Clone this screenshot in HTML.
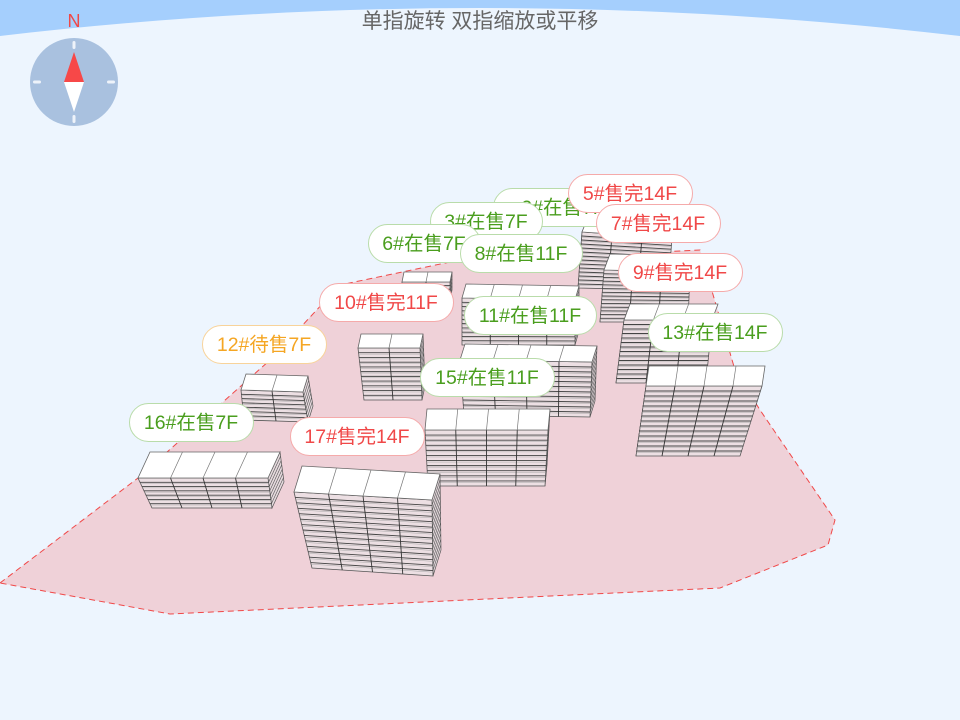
<!DOCTYPE html>
<html><head><meta charset="utf-8">
<style>
html,body{margin:0;padding:0;background:#edf5fe;}
svg{display:block}
text{font-family:"Liberation Sans","Noto Sans CJK SC",sans-serif}
</style></head>
<body>
<svg id="s" width="960" height="720" viewBox="0 0 960 720" xmlns="http://www.w3.org/2000/svg">
<rect width="960" height="720" fill="#edf5fe"/>
<path d="M0,0 H960 V36 Q480,-20 0,36 Z" fill="#a5cffd"/>
<text x="480" y="28" text-anchor="middle" font-size="21" fill="#666">单指旋转 双指缩放或平移</text>
<text x="74" y="27" text-anchor="middle" font-size="18" fill="#f04848">N</text>
<circle cx="74" cy="82" r="44" fill="#a9c1df"/>
<rect x="72.5" y="41" width="3" height="8" rx="1.5" fill="#eef3fa"/>
<rect x="72.5" y="115" width="3" height="8" rx="1.5" fill="#eef3fa"/>
<rect x="33" y="80.5" width="8" height="3" rx="1.5" fill="#eef3fa"/>
<rect x="107" y="80.5" width="8" height="3" rx="1.5" fill="#eef3fa"/>
<polygon points="74,52 64,82 84,82" fill="#f74848"/>
<polygon points="74,112 64,82 84,82" fill="#fff"/>
<polygon points="0,583 138,478 270,360 340,285 450,262 700,250 735,370 760,410 835,520 828,545 720,588 170,614" fill="#efd1d8" stroke="#f04848" stroke-width="1" stroke-dasharray="6,4"/>
<g id="b"></g>
<g id="l"></g>
</svg>
<script>
var NS="http://www.w3.org/2000/svg";
function el(p,t,a){var e=document.createElementNS(NS,t);for(var k in a)e.setAttribute(k,a[k]);p.appendChild(e);return e;}
var B=document.getElementById('b');
function lerp(a,b,t){return [a[0]+(b[0]-a[0])*t,a[1]+(b[1]-a[1])*t];}
function pts(a){return a.map(function(p){return p[0].toFixed(1)+','+p[1].toFixed(1)}).join(' ');}
function bld(tl,tr,br,bl,off,n,c,side){
  var g=el(B,'g',{});
  var s;
  if(side=='r'){s=[tr,[tr[0]+off[0],tr[1]+off[1]],[br[0]+off[0],br[1]+off[1]],br];}
  else{s=[tl,[tl[0]+off[0],tl[1]+off[1]],[bl[0]+off[0],bl[1]+off[1]],bl];}
  el(g,'polygon',{points:pts(s),fill:'#e6dade',stroke:'#555','stroke-width':0.7});
  for(var i=1;i<n;i++){var t=i/n;el(g,'line',{x1:lerp(s[0],s[3],t)[0],y1:lerp(s[0],s[3],t)[1],x2:lerp(s[1],s[2],t)[0],y2:lerp(s[1],s[2],t)[1],stroke:'#555','stroke-width':0.6});}
  el(g,'polygon',{points:pts([tl,tr,br,bl]),fill:'#ecdfe3',stroke:'#555','stroke-width':0.8});
  for(var i=1;i<n;i++){var t=i/n;var a=lerp(tl,bl,t),b=lerp(tr,br,t);
    el(g,'line',{x1:a[0],y1:a[1],x2:b[0],y2:b[1],stroke:'#444','stroke-width':0.9});
    var a2=lerp(tl,bl,t+0.3/n),b2=lerp(tr,br,t+0.3/n);
    el(g,'line',{x1:a2[0],y1:a2[1],x2:b2[0],y2:b2[1],stroke:'#aaa','stroke-width':0.5});}
  for(var j=1;j<c;j++){var t=j/c;var a=lerp(tl,tr,t),b=lerp(bl,br,t);
    el(g,'line',{x1:a[0],y1:a[1],x2:b[0],y2:b[1],stroke:'#333','stroke-width':0.9});}
  var tp=[tl,tr,[tr[0]+off[0],tr[1]+off[1]],[tl[0]+off[0],tl[1]+off[1]]];
  el(g,'polygon',{points:pts(tp),fill:'#fff',stroke:'#666','stroke-width':0.8});
  for(var j=1;j<c;j++){var t=j/c;var a=lerp(tp[0],tp[1],t),b=lerp(tp[3],tp[2],t);
    el(g,'line',{x1:a[0],y1:a[1],x2:b[0],y2:b[1],stroke:'#777','stroke-width':0.7});}
}
bld([582,232],[672,238],[668,290],[578,288],[4,-10],14,3,'l');
bld([604,270],[690,272],[688,322],[600,322],[6,-16],14,3,'l');
bld([402,282],[450,282],[450,300],[402,300],[2,-10],5,2,'r');
bld([462,298],[575,300],[575,345],[462,345],[4,-14],11,4,'r');
bld([624,320],[712,320],[706,383],[616,383],[6,-16],14,3,'l');
bld([358,348],[420,348],[422,400],[364,400],[3,-14],11,2,'r');
bld([460,360],[592,362],[590,417],[464,415],[5,-16],11,4,'r');
bld([241,390],[303,392],[308,422],[244,420],[5,-16],7,2,'r');
bld([646,386],[762,386],[740,456],[636,456],[3,-20],14,4,'l');
bld([425,430],[548,430],[545,486],[428,486],[2,-21],11,4,'r');
bld([138,478],[268,478],[272,508],[152,508],[12,-26],7,4,'r');
bld([294,492],[432,500],[433,576],[312,568],[8,-26],14,4,'r');
var L=document.getElementById('l');
var G=['#4a9e1e','#b9dcaa'],R=['#f04848','#f5aaaa'],O=['#f5a623','#f8d39a'];
[['2#在售7F',493,188,150,G],['5#售完14F',568,174,124,R],['3#在售7F',430,202,112,G],['7#售完14F',596,204,124,R],
['6#在售7F',368,224,112,G],['8#在售11F',460,234,122,G],['9#售完14F',618,253,124,R],['10#售完11F',319,283,134,R],
['11#在售11F',464,296,132,G],['13#在售14F',648,313,134,G],['12#待售7F',202,325,124,O],['15#在售11F',420,358,134,G],
['16#在售7F',129,403,124,G],['17#售完14F',290,417,134,R]].forEach(function(d){
  el(L,'rect',{x:d[1]+0.5,y:d[2]+0.5,width:d[3],height:38,rx:19,fill:'#fff',stroke:d[4][1],'stroke-width':1});
  var t=el(L,'text',{x:d[1]+d[3]/2,y:d[2]+26,'text-anchor':'middle','font-size':19.5,fill:d[4][0]});t.textContent=d[0];
  if(d[0]=='2#在售7F'){t.setAttribute('x',d[1]+70);}
});
</script>
</body></html>
